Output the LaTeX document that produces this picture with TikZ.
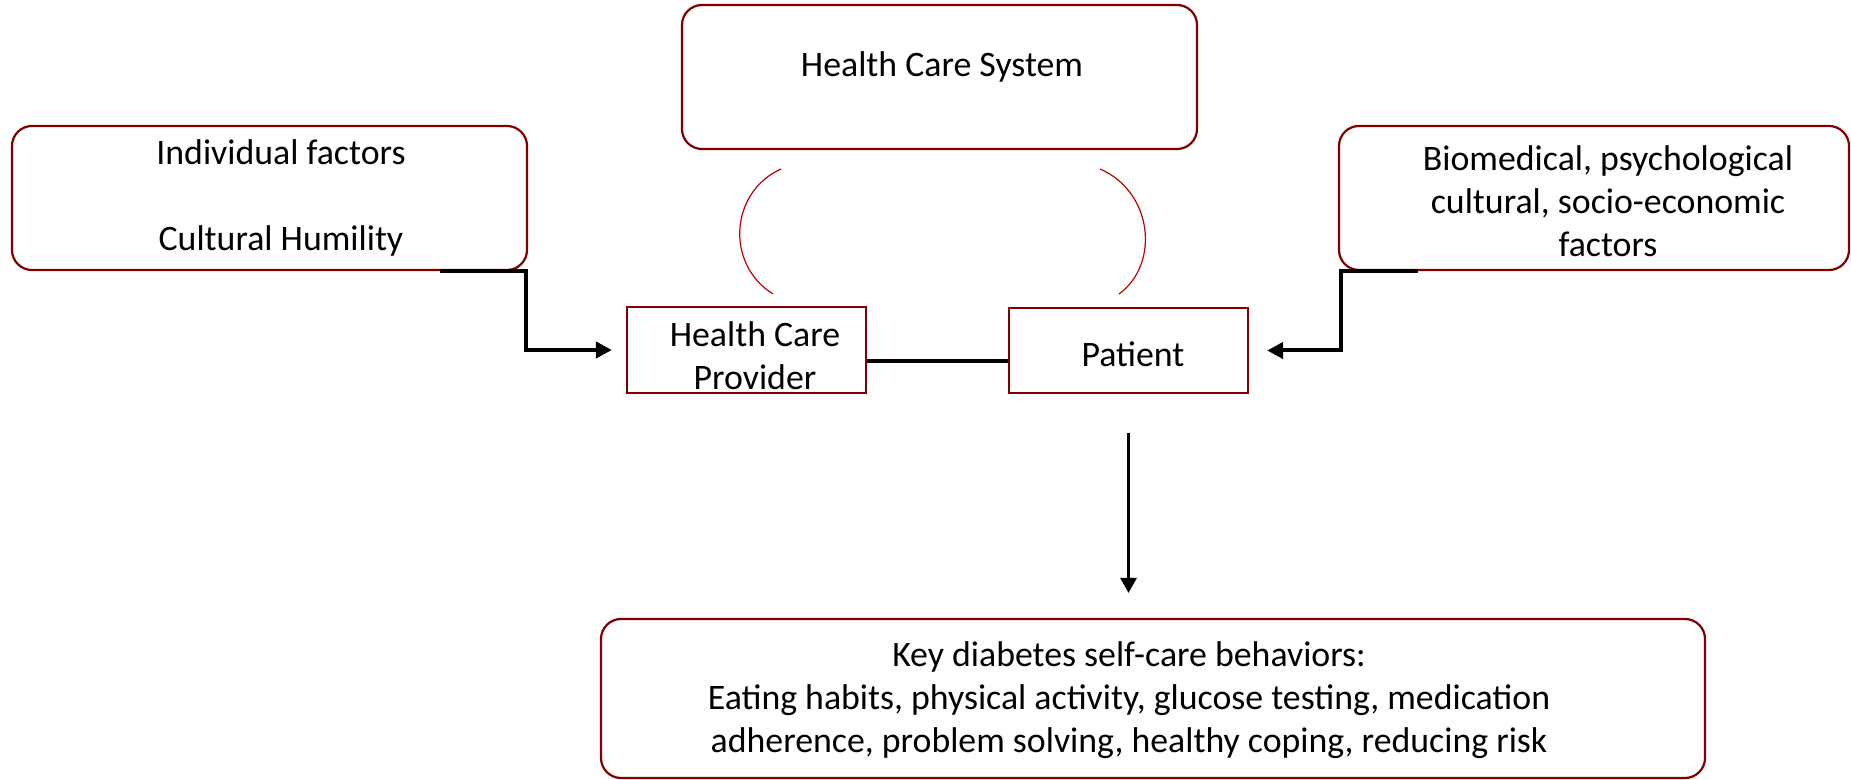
\documentclass[tikz,border=0pt]{standalone}
\usepackage{fontspec}
\setmainfont{Carlito}
\usetikzlibrary{arrows.meta,calc}
\definecolor{boxred}{RGB}{128,0,0}
\definecolor{arcred}{RGB}{192,0,0}
\begin{document}
\begin{tikzpicture}[x=0.5pt,y=-0.5pt,
  rbox/.style={draw=boxred, line width=1.1pt, rounded corners=10pt, inner sep=0pt},
  sbox/.style={draw=boxred, line width=1.1pt, inner sep=0pt},
  lbl/.style={font=\fontsize{17.9}{21.4}\selectfont, align=center, inner sep=0pt},
  conn/.style={line width=2pt, line join=miter, -{Triangle[length=8pt,width=8pt]}},
  link/.style={line width=1.9pt},
  swirl/.style={draw=arcred, line width=0.6pt}
]
\useasboundingbox (0,0) rectangle (1851,780);
% boxes
\node[rbox, minimum width=257.5pt, minimum height=72pt] (hcs) at (939.5,77) {};
\node[rbox, minimum width=257.5pt, minimum height=72pt] (ind) at (269.5,198) {};
\node[rbox, minimum width=255pt, minimum height=72pt] (rf) at (1594,198) {};
\node[sbox, minimum width=119.5pt, minimum height=43pt] (hcp) at (746.5,350) {};
\node[sbox, minimum width=119.5pt, minimum height=42.5pt] (pat) at (1128.5,350.5) {};
\node[rbox, minimum width=552pt, minimum height=79.5pt] (bot) at (1153,698.5) {};
% texts
\node[lbl] (hcst) at (942,67) {Health Care System};
\node[lbl] (indt) at (281,198) {Individual factors\\ \mbox{}\\ Cultural Humility};
\node[lbl] (rft) at (1608,201) {Biomedical, psychological\\cultural, socio-economic\\factors};
\node[lbl] (hcpt) at (755,356) {Health Care\\Provider};
\node[lbl] (patt) at (1133,354) {Patient};
\node[lbl] (bott) at (1129,700) {Key diabetes self-care behaviors:\\Eating habits, physical activity, glucose testing, medication\\adherence, problem solving, healthy coping, reducing risk};
% arcs
\draw[swirl] (781,169) .. controls (730,192) and (725,264) .. (773,294);
\draw[swirl] (1100,169) .. controls (1153,192) and (1160,264) .. (1119,294);
% connectors
\coordinate (ls) at ($(ind.south east)+(-88,0)$);
\coordinate (lk) at ($(ind.south east)+(-2,0)$);
\draw[conn, shorten >=7pt] (ls) -- (lk) |- (hcp.west);
\coordinate (rs) at ($(rf.south west)+(80,0)$);
\coordinate (rk) at ($(rf.south west)+(3,0)$);
\draw[conn, shorten >=9pt] (rs) -- (rk) |- (pat.east);
\draw[link] ([yshift=-5.5pt]hcp.east) -- ([yshift=-5.5pt]hcp.east -| pat.west);
\draw[line width=1.5pt, -{Triangle[length=7.5pt,width=8pt]}, shorten <=19.5pt, shorten >=12.5pt] (pat.south) -- (pat.south |- bot.north);
\end{tikzpicture}
\end{document}
